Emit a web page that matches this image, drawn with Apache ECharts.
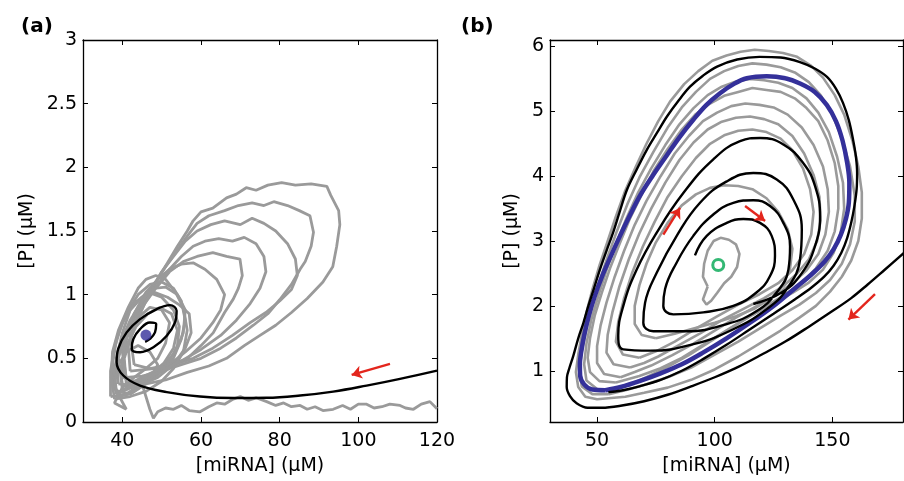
<!DOCTYPE html>
<html><head><meta charset="utf-8">
<script src="https://cdn.jsdelivr.net/npm/echarts@6/dist/echarts.min.js"></script>
<style>html,body{margin:0;padding:0;background:#fff}#c{width:904px;height:481px}</style>
</head><body><div id="c"></div>
<script>
// ---------- tick values ----------
const aXTicks = [40, 60, 80, 100, 120];
const aYTicks = [0, 0.5, 1, 1.5, 2, 2.5, 3];
const bXTicks = [50, 100, 150];
const bYTicks = [1, 2, 3, 4, 5, 6];

// ---------- panel (a) ----------
const aBlack = [[120.0,0.404],[110.6,0.339],[102.1,0.286],[93.6,0.239],[85.2,0.208],[76.7,0.19],[68.2,0.188],[59.75,0.20],[51.3,0.235],[44.5,0.286],[40.25,0.365],[38.55,0.47],[38.95,0.574],[41.1,0.704],[44.5,0.808],[48.75,0.887],[52.1,0.918],[53.8,0.873],[53.4,0.782],[51.3,0.678],[47.9,0.587],[44.5,0.548],[42.4,0.574],[42.8,0.652],[44.5,0.73],[47.0,0.782],[48.6,0.769],[48.3,0.704],[47.0,0.652],[45.8,0.63]];
const aFixedPoint = [[46.0,0.683]];
const aArrow = [[108.05,0.456],[98.3,0.37]];
const aGray1 = [[40,0.3],[39,0.5],[41,0.72],[44,0.9],[47,1.0],[49.5,1.15],[51.5,1.25],[54,1.38],[56.5,1.5],[58,1.58],[60,1.65],[63,1.68],[66.5,1.76],[69,1.79],[71.5,1.84],[74,1.82],[77,1.86],[80.5,1.88],[84,1.86],[88,1.87],[92,1.85],[93,1.78],[95,1.66],[95.3,1.55],[94.5,1.38],[93.5,1.22],[91,1.1],[87,0.97],[83,0.86],[79,0.76],[75,0.68],[71,0.6],[66.5,0.5],[62,0.44],[56.5,0.39],[51,0.33],[46,0.3],[42,0.27],[40,0.3]];
const aGray2 = [[41,0.35],[40,0.55],[42.5,0.78],[45.5,0.95],[48.5,1.1],[51,1.22],[54,1.35],[56.5,1.46],[59,1.56],[62,1.62],[66,1.66],[69.5,1.7],[73,1.72],[76,1.7],[78.5,1.73],[82,1.7],[85,1.66],[87.7,1.62],[88.6,1.49],[88,1.38],[86.5,1.26],[85.2,1.2],[83,1.08],[80,0.96],[77,0.85],[73.3,0.76],[69,0.66],[65,0.58],[60,0.5],[55,0.45],[50,0.4],[45,0.36],[41,0.35]];
const aGray3 = [[42,0.4],[41.5,0.6],[44,0.82],[47,1.02],[50,1.18],[53,1.3],[56,1.42],[59,1.5],[62.5,1.55],[66,1.58],[70,1.55],[73,1.6],[76,1.56],[79,1.5],[82,1.4],[84,1.28],[84.5,1.15],[83,1.04],[80,0.95],[76.5,0.86],[72.5,0.78],[68,0.68],[63,0.58],[58,0.5],[53,0.45],[48,0.42],[42,0.4]];
const aGray4 = [[43,0.45],[42,0.68],[45,0.9],[48.5,1.05],[52,1.18],[55.5,1.26],[59,1.3],[63,1.33],[66.5,1.3],[69.9,1.28],[70.5,1.15],[69.5,1.05],[68.2,0.965],[66,0.86],[63.1,0.7],[60,0.6],[56.4,0.495],[52,0.45],[47,0.42],[43,0.45]];
const aGray5 = [[40,0.35],[40.5,0.6],[43,0.85],[46,1.02],[49,1.12],[52,1.2],[55,1.24],[58,1.25],[61,1.2],[64,1.12],[66,1.0],[65,0.88],[63,0.78],[60,0.66],[56,0.55],[52,0.45],[47,0.38],[43,0.32],[40,0.35]];
const aGray6 = [[38,0.25],[37.5,0.45],[38.5,0.65],[41,0.85],[44,1.0],[47,1.08],[50,1.1],[53,1.05],[55,0.95],[56,0.8],[55,0.65],[53,0.5],[50,0.4],[46,0.3],[42,0.22],[38,0.25]];
const aGray7 = [[37,0.2],[37,0.4],[38,0.58],[40,0.78],[43,0.93],[46.5,1.02],[50,0.98],[53,0.88],[54.5,0.75],[54,0.6],[52,0.48],[49,0.38],[45,0.3],[41,0.22],[37,0.2]];
const aGray8 = [[39,0.3],[38.5,0.5],[40,0.7],[42,0.88],[45,0.98],[48,1.02],[51.5,0.98],[54.5,0.92],[57,0.85],[57.5,0.7],[56,0.58],[53,0.45],[49,0.35],[44,0.28],[39,0.3]];
const aGray9 = [[37.5,0.3],[39,0.55],[41,0.7],[44,0.82],[47,0.9],[50,0.88],[52,0.78],[51,0.62],[49,0.5],[46,0.42],[43,0.35],[40,0.27],[38,0.15],[41,0.1],[37.5,0.3]];
const aGray10 = [[45,0.3],[46,0.2],[47,0.1],[47.9,0.03],[49,0.08],[51,0.11],[53,0.1],[55,0.13],[57,0.09],[59.75,0.08],[62,0.12],[64,0.15],[66,0.14],[68.2,0.18],[70,0.2],[72,0.17],[74,0.19],[76.7,0.16],[79,0.13],[81,0.15],[83,0.12],[85.2,0.13],[87,0.1],[89,0.12],[91,0.09],[93.6,0.1],[96,0.13],[98,0.1],[100,0.14],[102.1,0.14],[104,0.11],[106,0.12],[108,0.14],[110.6,0.13],[112,0.11],[114,0.1],[116,0.14],[118.2,0.16],[120,0.104]];
const aGray11 = [[38,0.18],[37.2,0.35],[37.5,0.55],[39,0.72],[41.5,0.9],[44,1.05],[46,1.12],[48.5,1.15],[51,1.12],[53.5,1.02],[55.5,0.9],[56.5,0.72],[55.5,0.55],[53,0.42],[50,0.32],[46,0.24],[42,0.2],[38,0.18]];
const aGray12 = [[38.5,0.22],[38,0.42],[39.5,0.62],[42,0.8],[45,0.95],[48,1.05],[51,1.06],[54,1.0],[56,0.88],[55.5,0.7],[53.5,0.55],[50.5,0.45],[47,0.36],[43,0.28],[38.5,0.22]];
const aGray13 = [[39,0.2],[38,0.3],[39,0.45],[41,0.55],[44,0.6],[47,0.55],[49,0.45],[47.5,0.35],[45,0.28],[42,0.22],[39,0.2]];
const aGray14 = [[40,0.25],[39.5,0.4],[41,0.6],[43.5,0.75],[46.5,0.85],[49.5,0.9],[52.5,0.85],[54,0.72],[53,0.58],[50.5,0.46],[47,0.37],[43,0.3],[40,0.25]];
const aGray15 = [[41,0.3],[40.5,0.5],[43,0.75],[46,0.95],[49,1.08],[52,1.2],[55,1.3],[58,1.38],[61,1.42],[64.5,1.44],[68,1.42],[71,1.45],[74,1.4],[76,1.3],[76.5,1.18],[75,1.05],[72.5,0.93],[69,0.8],[65,0.68],[60,0.57],[55,0.48],[50,0.4],[45,0.33],[41,0.3]];

// ---------- panel (b) ----------
const bOuterTraj = [[180.5,2.82],[172,2.55],[165,2.33],[158,2.12],[150,1.92],[140,1.68],[130,1.45],[120,1.25],[110,1.06],[100,0.9],[90,0.76],[80,0.63],[70,0.53],[60,0.46],[52,0.43],[46,0.43],[41.3,0.5],[38.5,0.61],[37.1,0.75],[37.2,0.9],[38.3,1.05],[39.9,1.23],[42,1.5],[44.2,1.74],[46.3,2.0],[48.6,2.26],[51.2,2.56],[54,2.85],[56.8,3.13],[59.6,3.45],[62.7,3.79],[66.8,4.1],[71.2,4.41],[75.5,4.67],[79.7,4.92],[84.5,5.16],[89.5,5.38],[95,5.55],[101,5.69],[109.5,5.8],[119,5.84],[128,5.83],[136.2,5.76],[142.5,5.66],[147.7,5.53],[151.5,5.35],[154.5,5.13],[157,4.86],[158.8,4.56],[160,4.3],[160.5,4.05],[160.3,3.8],[159.4,3.55],[158.1,3.3],[156.3,3.05],[153.8,2.82],[150.5,2.62],[146.5,2.45],[141,2.28],[134,2.1],[125,1.88],[115,1.64],[105,1.4],[95,1.18],[86,1.0],[77,0.86],[68,0.76],[61,0.7],[54.8,0.67]];
const bSpiral = [[91.6,2.78],[96.6,3.08],[105.1,3.28],[112.15,3.34],[119.25,3.28],[124.2,3.08],[125.6,2.77],[123.5,2.46],[117.85,2.21],[107.9,2.00],[95.15,1.90],[82.4,1.87],[78.15,2.00],[78.9,2.26],[83.85,2.67],[90.9,3.08],[99.4,3.41],[107.9,3.59],[116.4,3.63],[123.5,3.54],[129.15,3.28],[132.0,2.92],[131.3,2.56],[126.35,2.21],[117.85,1.92],[105.1,1.72],[88.1,1.61],[73.9,1.61],[69.65,1.74],[70.4,2.05],[75.35,2.51],[83.85,3.08],[93.75,3.59],[105.1,3.92],[116.4,4.05],[126.35,3.95],[133.4,3.64],[137.0,3.18],[136.25,2.72],[130.6,2.26],[122.1,1.95],[107.9,1.64],[90.9,1.41],[72.5,1.31],[61.15,1.33],[59.0,1.54],[61.15,2.00],[66.85,2.56],[75.35,3.13],[86.65,3.74],[99.4,4.26],[110.75,4.54],[119.25,4.59],[129.15,4.49],[137.65,4.20],[142.6,3.85],[144.75,3.38],[142.6,2.92],[137.1,2.51],[128.6,2.21],[116.4,2.03]];
const bLimitCycle = [[53.5,0.70],[48,0.71],[44.5,0.79],[42.8,0.93],[42.7,1.1],[43.3,1.3],[44.6,1.56],[46.5,1.85],[49,2.15],[52.4,2.48],[56,2.78],[59.75,3.08],[64,3.4],[68.25,3.7],[73.5,4.0],[79.6,4.32],[85,4.6],[90.9,4.87],[96.5,5.1],[102.25,5.28],[108,5.42],[113.6,5.51],[122.1,5.54],[130,5.51],[136.25,5.43],[142.5,5.3],[147.6,5.1],[151.5,4.85],[154.3,4.55],[156.3,4.2],[157.2,3.9],[157,3.6],[155.8,3.35],[153.6,3.1],[150.6,2.88],[146.6,2.68],[141,2.48],[134,2.27],[125,2.0],[115,1.74],[105,1.5],[95,1.28],[86,1.1],[77,0.96],[68,0.84],[60,0.75],[53.5,0.70]];
const bFixedPoint = [[101.5,2.63]];
const bArrows = [[[78.15,3.10],[85.25,3.51]],[[112.9,3.54],[121.4,3.31]],[[168.1,2.18],[156.8,1.79]]];
const bGray1 = [[56,0.58],[50,0.56],[45,0.6],[42,0.75],[41,0.98],[42,1.25],[43.5,1.55],[45.5,1.9],[48,2.25],[51,2.62],[54.5,3.0],[58,3.38],[62,3.78],[66.5,4.15],[71,4.5],[76,4.85],[81,5.15],[87,5.42],[93,5.62],[99,5.78],[105,5.86],[111,5.92],[117,5.95],[123,5.93],[129,5.9],[135,5.84],[141,5.7],[146,5.52],[151,5.25],[155,4.95],[158.5,4.55],[161,4.15],[162.5,3.75],[162.5,3.35],[161,3.0],[158,2.7],[154,2.45],[149,2.22],[143,2.0],[136,1.82],[128,1.62],[119,1.42],[110,1.22],[100,1.02],[90,0.86],[80,0.74],[70,0.66],[62,0.6],[56,0.58]];
const bGray2 = [[58,0.82],[51,0.84],[47,0.98],[46,1.2],[47,1.5],[49,1.85],[52,2.2],[55.5,2.58],[59.5,2.95],[64,3.35],[69,3.72],[74,4.08],[80,4.42],[86,4.72],[92,4.96],[98,5.12],[104,5.24],[110,5.3],[116,5.36],[122,5.33],[128,5.3],[134,5.2],[139,5.05],[144,4.85],[148,4.55],[151,4.2],[152.5,3.85],[152.5,3.5],[151,3.15],[148,2.85],[143,2.58],[137,2.36],[130,2.18],[122,2.0],[113,1.8],[104,1.6],[95,1.4],[86,1.2],[77,1.04],[68,0.92],[58,0.82]];
const bGray3 = [[60,0.9],[53,0.95],[50,1.12],[50,1.38],[51.5,1.7],[54,2.05],[57.5,2.45],[61.5,2.85],[66,3.25],[71,3.62],[77,4.0],[83,4.35],[89,4.62],[95,4.85],[101,4.98],[107,5.08],[113,5.12],[119,5.1],[125,5.06],[131,4.95],[137,4.75],[142,4.48],[146,4.15],[148,3.8],[148.5,3.45],[147,3.1],[144,2.8],[139,2.55],[133,2.35],[126,2.17],[118,2.0],[109,1.82],[100,1.62],[91,1.42],[82,1.24],[73,1.08],[66,0.98],[60,0.9]];
const bGray4 = [[64,1.05],[57,1.1],[54,1.28],[54.5,1.55],[56.5,1.9],[59.5,2.3],[63.5,2.72],[68,3.12],[73,3.5],[79,3.9],[85,4.25],[91,4.52],[97,4.72],[103,4.84],[109,4.9],[115,4.92],[121,4.88],[127,4.8],[133,4.62],[138,4.35],[142,4.02],[144.5,3.68],[145,3.32],[143.5,3.0],[140,2.72],[135,2.5],[129,2.3],[121,2.12],[112,1.95],[103,1.78],[94,1.58],[85,1.4],[76,1.22],[70,1.12],[64,1.05]];
const bGray5 = [[75,1.5],[69,1.55],[66,1.72],[66,2.0],[68,2.32],[71,2.65],[75,2.98],[80,3.28],[86,3.55],[92,3.72],[98,3.82],[104,3.86],[110,3.85],[116,3.8],[122,3.66],[127,3.45],[131,3.18],[133,2.88],[132,2.58],[129,2.32],[124,2.12],[117,1.96],[109,1.84],[100,1.74],[91,1.65],[83,1.57],[75,1.5]];
const bGray6 = [[68,1.2],[61,1.25],[58,1.45],[59,1.75],[61.5,2.12],[65,2.52],[69.5,2.92],[74.5,3.3],[80,3.68],[86,4.0],[92,4.28],[98,4.5],[104,4.63],[110,4.7],[116,4.72],[122,4.68],[128,4.58],[133,4.4],[137.5,4.12],[140.5,3.8],[142,3.45],[141,3.1],[138,2.8],[133,2.55],[127,2.35],[119,2.18],[110,2.02],[101,1.84],[92,1.65],[83,1.45],[75,1.3],[68,1.2]];
const bGray7 = [[97,2.3],[95,2.45],[95.5,2.65],[97,2.85],[99.5,3.0],[102.5,3.05],[106,3.02],[109,2.95],[110.5,2.8],[109.5,2.6],[107,2.45],[104,2.35],[101,2.2],[98.5,2.08],[96.5,2.02],[95,2.1],[97,2.3]];
const bGray8 = [[57,0.7],[50,0.72],[45.5,0.85],[44.5,1.1],[45.5,1.42],[47.5,1.78],[50.5,2.15],[54,2.55],[58,2.95],[62.5,3.35],[67.5,3.75],[73,4.12],[79,4.48],[85,4.8],[91,5.05],[97,5.25],[103,5.38],[109,5.46],[115,5.5],[121,5.48],[127,5.44],[133,5.36],[139,5.2],[144,4.98],[148.5,4.68],[152,4.3],[154.5,3.9],[155,3.5],[153.5,3.12],[150.5,2.82],[146,2.56],[140,2.36],[133,2.2],[125,2.04],[116,1.86],[107,1.66],[98,1.45],[89,1.24],[80,1.06],[71,0.9],[64,0.79],[57,0.7]];
const bGray9 = [[55,0.64],[48,0.64],[43.5,0.76],[42.5,1.0],[43.5,1.3],[45.5,1.65],[48,2.0],[51,2.38],[54.5,2.76],[58.5,3.16],[63,3.58],[68,3.98],[74,4.38],[80,4.75],[86,5.06],[92,5.3],[98,5.5],[104,5.62],[110,5.7],[116,5.74],[122,5.72],[128,5.68],[134,5.6],[140,5.45],[145,5.25],[150,4.95],[154,4.58],[157.5,4.15],[159.5,3.7],[159.5,3.3],[157.5,2.95],[154,2.65],[149,2.4],[143,2.2],[136,2.02],[128,1.85],[119,1.65],[110,1.45],[100,1.25],[90,1.05],[80,0.9],[70,0.78],[62,0.7],[55,0.64]];

// ---------- styles ----------
const FONT = 'DejaVu Sans, Liberation Sans, sans-serif';
const GRAY = '#9a9a9a', BLACK = '#000000', BLUE = '#34309a', GREEN = '#00a651', RED = '#e3261d';
const FS = 19;

function xAx(grid, min, max, ticks, pos, labels, name) {
  return {
    type: 'value', gridIndex: grid, min: min, max: max, position: pos,
    name: labels ? name : '', nameLocation: 'middle', nameGap: 35,
    nameTextStyle: {fontFamily: FONT, fontSize: FS, color: '#000'},
    axisLine: {show: true, onZero: false, lineStyle: {color: '#000', width: 1.3}},
    axisTick: {show: true, inside: true, length: 5, customValues: ticks, lineStyle: {color: '#000', width: 1}},
    axisLabel: {show: labels, customValues: ticks, margin: 10, fontFamily: FONT, fontSize: FS, color: '#000'},
    splitLine: {show: false}
  };
}
function yAx(grid, min, max, ticks, pos, labels, name, gap) {
  return {
    type: 'value', gridIndex: grid, min: min, max: max, position: pos,
    name: labels ? name : '', nameLocation: 'middle', nameGap: gap,
    nameTextStyle: {fontFamily: FONT, fontSize: FS, color: '#000'},
    axisLine: {show: true, onZero: false, lineStyle: {color: '#000', width: 1.3}},
    axisTick: {show: true, inside: true, length: 5, customValues: ticks, lineStyle: {color: '#000', width: 1}},
    axisLabel: {show: labels, customValues: ticks, margin: 6, fontFamily: FONT, fontSize: FS, color: '#000'},
    splitLine: {show: false}
  };
}
function lineS(xi, yi, data, color, width, z, smooth) {
  return {type: 'line', xAxisIndex: xi, yAxisIndex: yi, data: data, showSymbol: false, symbol: 'none',
    smooth: smooth, clip: true, lineStyle: {color: color, width: width}, z: z, silent: true, animation: false};
}
function arrowS(xi, yi, segs) {
  return {type: 'lines', coordinateSystem: 'cartesian2d', xAxisIndex: xi, yAxisIndex: yi,
    data: segs.map(s => ({coords: s})), symbol: ['none', 'arrow'], symbolSize: [0, 10],
    lineStyle: {color: RED, width: 2.4, opacity: 1}, z: 8, silent: true, animation: false};
}

const grayA = [aGray1, aGray2, aGray3, aGray4, aGray5, aGray6, aGray7, aGray8, aGray9, aGray10, aGray11, aGray12, aGray13, aGray14, aGray15];
const grayB = [bGray1, bGray2, bGray3, bGray4, bGray5, bGray6, bGray7, bGray8, bGray9];

const series = [];
grayA.forEach(g => series.push(lineS(0, 0, g, GRAY, 2.8, 2, false)));
series.push(lineS(0, 0, aBlack, BLACK, 2.4, 4, 0.4));
series.push({type: 'scatter', xAxisIndex: 0, yAxisIndex: 0, data: aFixedPoint, symbol: 'circle', symbolSize: 11,
  itemStyle: {color: BLUE}, z: 9, silent: true, animation: false});
series.push(arrowS(0, 0, [aArrow]));

grayB.forEach(g => series.push(lineS(2, 2, g, GRAY, 2.6, 2, false)));
series.push(lineS(2, 2, bLimitCycle, BLUE, 4.5, 5, 0.35));
series.push(lineS(2, 2, bOuterTraj, BLACK, 2.4, 6, 0.35));
series.push(lineS(2, 2, bSpiral, BLACK, 2.4, 6, 0.45));
series.push({type: 'scatter', xAxisIndex: 2, yAxisIndex: 2, data: bFixedPoint, symbol: 'circle', symbolSize: 11,
  itemStyle: {color: '#ffffff', borderColor: GREEN, borderWidth: 3}, z: 9, silent: true, animation: false});
series.push(arrowS(2, 2, bArrows));

const option = {
  backgroundColor: '#ffffff',
  animation: false,
  title: [
    {text: '(a)', left: 16, top: 12, textStyle: {fontFamily: FONT, fontSize: 20, fontWeight: 'bold', color: '#000'}},
    {text: '(b)', left: 456, top: 12, textStyle: {fontFamily: FONT, fontSize: 20, fontWeight: 'bold', color: '#000'}}
  ],
  grid: [
    {left: 83, top: 40, width: 354, height: 383},
    {left: 550, top: 40, width: 353, height: 383}
  ],
  xAxis: [
    xAx(0, 30, 120, aXTicks, 'bottom', true, '[miRNA] (μM)'),
    xAx(0, 30, 120, aXTicks, 'top', false, ''),
    xAx(1, 30, 180, bXTicks, 'bottom', true, '[miRNA] (μM)'),
    xAx(1, 30, 180, bXTicks, 'top', false, '')
  ],
  yAxis: [
    yAx(0, 0, 3, aYTicks, 'left', true, '[P] (μM)', 46),
    yAx(0, 0, 3, aYTicks, 'right', false, '', 10),
    yAx(1, 0.21, 6.1, bYTicks, 'left', true, '[P] (μM)', 28),
    yAx(1, 0.21, 6.1, bYTicks, 'right', false, '', 10)
  ],
  series: series
};
const chart = echarts.init(document.getElementById('c'), null, {renderer: 'canvas'});
chart.setOption(option);
</script></body></html>
